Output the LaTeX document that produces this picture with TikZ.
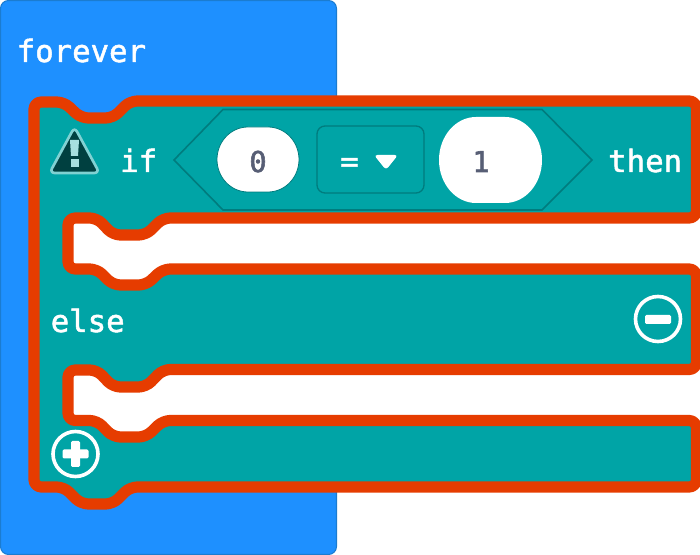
\documentclass[tikz,border=0pt]{standalone}
\usepackage{fontspec}
\setmonofont{DejaVu Sans Mono}
\newfontfamily\blockfont[FakeBold=1.6]{DejaVu Sans Mono}
\newfontfamily\digitfont[FakeBold=2]{DejaVu Sans Mono}
\definecolor{hatblue}{HTML}{1E90FF}
\definecolor{hatedge}{HTML}{1B7CD0}
\definecolor{logicteal}{HTML}{00A4A6}
\definecolor{tealedge}{HTML}{007C7E}
\definecolor{hilite}{HTML}{E63C00}
\definecolor{warnfill}{HTML}{004040}
\definecolor{warnedge}{HTML}{80D1D2}
\definecolor{digit}{HTML}{575E75}
\tikzset{
  blocklabel/.style={anchor=base west,inner sep=0pt,text=white,font=\blockfont\fontsize{23}{23}\selectfont},
  numlabel/.style={anchor=base,inner sep=0pt,text=digit,font=\digitfont\fontsize{21.5}{21.5}\selectfont},
  inset/.style={fill=logicteal,draw=tealedge,line width=1.2pt},
  oval/.style={fill=white,draw=tealedge,line width=0.6pt},
  roundbtn/.style={draw=white,line width=2.7pt,fill=none},
  glyph/.style={fill=white,rounded corners=1pt}
}
\begin{document}
\begin{tikzpicture}[x=0.75pt,y=-0.75pt]
\useasboundingbox (0,0) rectangle (700,555);
\fill[white] (0,0) rectangle (700,555);
\draw[fill=hatblue,draw=hatedge,line width=0.8pt,rounded corners=6pt] (0.5,0.5) rectangle (336.5,554.5);
\node[blocklabel] (forever) at (16.5,62) {forever};
% holes
\fill[white,rounded corners=5pt] (68,218) -- (68,269) -- (720,269) -- (720,218) -- cycle;
\fill[white] (97,218) -- (113,235) -- (146,235) -- (163,218) -- cycle;
\fill[white] (97,269) -- (113,285) -- (146,285) -- (163,269) -- cycle;
\fill[white,rounded corners=5pt] (68,370) -- (68,420) -- (720,420) -- (720,370) -- cycle;
\fill[white] (97,370) -- (113,387) -- (146,387) -- (163,370) -- cycle;
\fill[white] (97,420) -- (113,437) -- (146,437) -- (163,420) -- cycle;
% main block
\draw[fill=logicteal,draw=hilite,line width=8.4pt,line join=round,rounded corners=5.5pt]
 (34,102) -- (64,102) -- (81,118) -- (113,118) -- (130,101) -- (696.5,101) -- (696.5,218)
 -- (163,218) -- (146,235) -- (113,235) -- (97,218) -- (68,218) -- (68,269) -- (97,269)
 -- (113,285) -- (146,285) -- (163,269) -- (696.5,269) -- (696.5,369.5) -- (163,369.5)
 -- (146,387) -- (113,387) -- (97,370) -- (68,370) -- (68,420.5) -- (97,420.5) -- (113,437)
 -- (146,437) -- (163,420.5) -- (696.5,420.5) -- (696.5,487) -- (130,487) -- (113,504)
 -- (81,504) -- (64,487) -- (34,487) -- cycle;
% warning icon
\draw[fill=warnfill,draw=warnedge,line width=2pt,line join=round,rounded corners=4pt]
 (74.5,127) -- (99.5,173) -- (49.5,173) -- cycle;
\fill[warnedge!70!white] (70,140) -- (79,140) -- (78,156) -- (71,156) -- cycle;
\fill[warnedge!70!white] (70.5,159) rectangle (78.5,167);
\node[blocklabel] (iflabel) at (120,172) {if};
% boolean hexagon
\draw[inset,line join=miter] (174,160) -- (223,109.5) -- (542,109.5) -- (592,160) -- (542,210) -- (223,210) -- cycle;
\draw[oval] (217,159.5) ++(31,-32.5) -- ++(20,0) arc (-90:90:31 and 32.5) -- ++(-20,0) arc (90:270:31 and 32.5) -- cycle;
\node[numlabel] (zero) at (258,172) {0};
\draw[inset,line width=1pt,rounded corners=6pt] (317,126) rectangle (424,193);
\node[blocklabel] (eq) at (340,172) {=};
\fill[white,rounded corners=2.5pt] (374,155) -- (398,155) -- (386,170) -- cycle;
\draw[oval,draw=none] (439,160) ++(37,-43) -- ++(29,0) arc (-90:90:37 and 43) -- ++(-29,0) arc (90:270:37 and 43) -- cycle;
\node[numlabel] (one) at (481,172) {1};
\node[blocklabel] (then) at (608,172) {then};
\node[blocklabel] (else) at (50.5,332) {else};
% minus button
\draw[roundbtn] (658,319) circle (22.5);
\fill[glyph] (645,315) rectangle (671,324);
% plus button
\draw[roundbtn] (75.5,454) circle (22.5);
\fill[glyph] (62.5,449.5) rectangle (88.5,458.5);
\fill[glyph] (71,441) rectangle (80,467);
\end{tikzpicture}
\end{document}
